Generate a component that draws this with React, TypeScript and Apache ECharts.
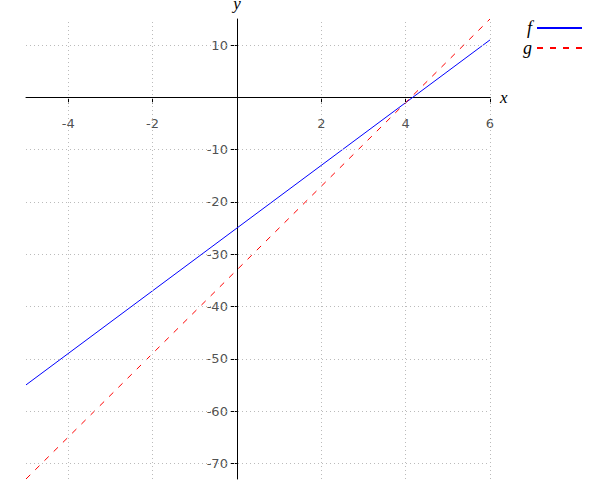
import React, { useEffect, useRef } from "react";
import * as echarts from "echarts";

const xValues = [-5, 0, 6];
const fValues = [-55, -25, 11];
const gValues = [-73, -33, 15];
const xTicks = [-4, -2, 2, 4, 6];
const yTicks = [-70, -60, -50, -40, -30, -20, -10, 10];

const gridStyle = { color: "#bbbbbb", width: 1, type: [1, 3] as any };
const labelFont = { fontFamily: "DejaVu Sans", fontSize: 13, color: "#222" };

export default function App() {
  const ref = useRef<HTMLDivElement>(null);
  useEffect(() => {
    if (!ref.current) return;
    const chart = echarts.init(ref.current, undefined, { renderer: "svg" });
    chart.setOption({
      animation: false,
      backgroundColor: "#ffffff",
      grid: { left: 26, right: 110, top: 19, bottom: 21, containLabel: false, outerBoundsMode: "none" },
      legend: {
        orient: "vertical",
        left: 517,
        top: 14,
        align: "right",
        itemWidth: 45,
        itemHeight: 10,
        itemGap: 2,
        itemStyle: { opacity: 0 },
        textStyle: {
          fontFamily: "Liberation Serif",
          fontStyle: "italic",
          fontSize: 18,
          lineHeight: 18,
          color: "#000",
          width: 10,
          align: "right",
        },
        data: ["f", "g"],
      },
      xAxis: {
        type: "value",
        min: -5,
        max: 6,
        name: "x",
        nameLocation: "end",
        nameGap: 10,
        nameTextStyle: { fontFamily: "Liberation Serif", fontStyle: "italic", fontSize: 17, color: "#000", verticalAlign: "middle" },
        axisLine: { onZero: true, lineStyle: { color: "#000", width: 1 } },
        axisTick: { show: true, length: 6, customValues: xTicks, lineStyle: { color: "#000" } },
        axisLabel: { show: false },
        splitLine: { show: false },
      },
      yAxis: {
        type: "value",
        min: -73,
        max: 15,
        name: "y",
        nameLocation: "end",
        nameGap: 7,
        nameTextStyle: { fontFamily: "Liberation Serif", fontStyle: "italic", fontSize: 17, color: "#000" },
        axisLine: { onZero: true, lineStyle: { color: "#000", width: 1 } },
        axisTick: { show: true, length: 6, customValues: yTicks, lineStyle: { color: "#000" } },
        axisLabel: { show: false },
        splitLine: { show: false },
      },
      series: [
        {
          name: "grid",
          type: "line",
          data: [],
          silent: true,
          markLine: {
            silent: true,
            symbol: "none",
            label: { show: false },
            lineStyle: gridStyle,
            data: [
              ...xTicks.map((v) => ({ xAxis: v })),
              ...yTicks.map((v) => ({ yAxis: v })),
            ],
          },
        },
        {
          name: "xLabels",
          type: "scatter",
          silent: true,
          symbolSize: 0,
          data: xTicks.map((v) => [v, 0]),
          label: {
            show: true,
            position: "bottom",
            distance: 20,
            formatter: (p: any) => String(p.value[0]),
            ...labelFont,
          },
        },
        {
          name: "yLabels",
          type: "scatter",
          silent: true,
          symbolSize: 0,
          data: yTicks.map((v) => [0, v]),
          label: {
            show: true,
            position: "left",
            distance: 9,
            formatter: (p: any) => String(p.value[1]),
            ...labelFont,
          },
        },
        {
          name: "f",
          type: "line",
          symbol: "none",
          data: xValues.map((x, i) => [x, fValues[i]]),
          lineStyle: { color: "#0000ff", width: 1 },
          itemStyle: { color: "#0000ff" },
          z: 3,
        },
        {
          name: "g",
          type: "line",
          symbol: "none",
          data: xValues.map((x, i) => [x, gValues[i]]),
          lineStyle: { color: "#ff0000", width: 1, type: [6, 7] },
          itemStyle: { color: "#ff0000" },
          z: 3,
        },
      ],
    });
    return () => chart.dispose();
  }, []);
  return (
    <div
      ref={ref}
      style={{ position: "fixed", left: 0, top: 0, width: 600, height: 500 }}
    />
  );
}
